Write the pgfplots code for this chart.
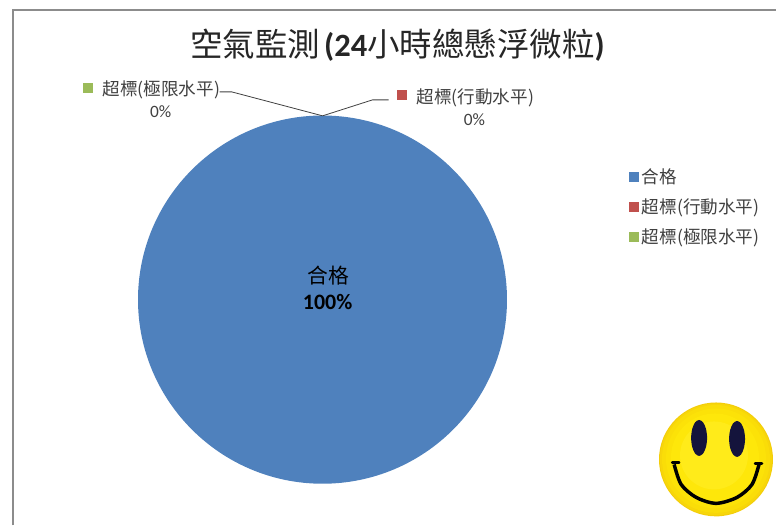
\documentclass[border=0pt]{standalone}
\usepackage{fontspec}
\setmainfont{Carlito}
\newfontfamily\cjk{Noto Sans CJK TC}
\usepackage{pgfplots}
\pgfplotsset{compat=1.18}
\definecolor{pieblue}{HTML}{4F81BD}
\definecolor{piered}{HTML}{C0504D}
\definecolor{piegreen}{HTML}{9BBB59}
\definecolor{txt}{HTML}{404040}
\definecolor{eye}{HTML}{14143C}
\definecolor{y1}{HTML}{F3CD0A}
\definecolor{y2}{HTML}{F7D60A}
\definecolor{y3}{HTML}{FADD08}
\definecolor{y4}{HTML}{FCE208}
\definecolor{y5}{HTML}{FEE70A}
\definecolor{y6}{HTML}{FFEB1A}
\pgfplotsset{
  sq/.style={legend image code/.code={\fill[#1, draw=none, line width=0pt, line cap=butt] (-1.5pt,-3.7pt) rectangle (5.9pt,3.7pt);}},
  disc/.style 2 args={forget plot, color=#1, line cap=round, line width=#2*1.5pt},
}
\begin{document}
\begin{tikzpicture}
\begin{axis}[
  at={(0,0)}, anchor=south west,
  scale only axis, width=582.75pt, height=394.5pt,
  xmin=0, xmax=777, ymin=0, ymax=526, y dir=reverse,
  hide axis, clip=false,
  legend style={draw=none, fill=none, at={(axis cs:630,166)}, anchor=north west,
    font=\fontsize{13.2pt}{15pt}\selectfont\cjk\color{txt}, row sep=6pt, inner sep=0pt,
    legend cell align=left},
]
% Chart frame
\addplot[forget plot, color=black!45, line width=1.5pt] coordinates {(13.5,526) (13.5,10.5) (777,10.5)};
% Pie: 100% 合格 fills the whole circle
\addplot[sq=pieblue, color=pieblue, line cap=round, line width=276.5pt] coordinates {(323,300) (323,300.01)};
\addlegendentry{合格}
% Zero-size slices
\addplot[sq=piered, draw=none, mark=none] coordinates {(323,116) (323,116)};
\addlegendentry{超標(行動水平)}
\addplot[sq=piegreen, draw=none, mark=none] coordinates {(323,116) (323,116)};
\addlegendentry{超標(極限水平)}
% Leader lines
\addplot[forget plot, color=txt, line width=0.6pt] coordinates {(220,92) (232,92) (323,116)};
\addplot[forget plot, color=txt, line width=0.6pt] coordinates {(323,116) (373,100) (389,100)};
% Data-label keys
\addplot[forget plot, color=piegreen, line width=7.5pt] coordinates {(83.5,88) (93.5,88)};
\addplot[forget plot, color=piered, line width=7.5pt] coordinates {(398,95) (408,95)};
% Smiley
\addplot[disc={y1}{57}] coordinates {(717,460) (717,460.01)};
\addplot[disc={y2}{56}] coordinates {(717,460) (717,460.01)};
\addplot[disc={y3}{54}] coordinates {(717,459.5) (717,459.51)};
\addplot[disc={y4}{50}] coordinates {(717,459) (717,459.01)};
\addplot[disc={y5}{44}] coordinates {(716,458) (716,458.01)};
\addplot[disc={y6}{34}] coordinates {(715,456) (715,456.01)};
\addplot[forget plot, fill=eye, draw=none, smooth cycle] coordinates {(708,438.5) (706.9,429.5) (704,422.9) (700,420.5) (696,422.9) (693.1,429.5) (692,438.5) (693.1,447.5) (696,454.1) (700,456.5) (704,454.1) (706.9,447.5)};
\addplot[forget plot, fill=eye, draw=none, smooth cycle] coordinates {(746,439.5) (744.9,430.5) (742,423.9) (738,421.5) (734,423.9) (731.1,430.5) (730,439.5) (731.1,448.5) (734,455.1) (738,457.5) (742,455.1) (744.9,448.5)};
\addplot[forget plot, color=black, line width=2.6pt, smooth] coordinates {(675,465) (682,485) (697,498) (717,504) (738,498) (753,485) (760,465)};
\addplot[forget plot, color=black, line width=1.9pt, line cap=round] coordinates {(673,463) (680,463)};
\addplot[forget plot, color=black, line width=1.9pt, line cap=round] coordinates {(756,464) (763,464)};
% Texts
\node[anchor=center, text=black!85, font=\fontsize{24.4pt}{28pt}\selectfont] at (axis cs:398,45)
  {{\cjk 空氣監測}\hspace{3pt}\textbf{(24}{\cjk 小時總懸浮微粒}\textbf{)}};
\node[anchor=center, text=txt, font=\fontsize{13.2pt}{15pt}\selectfont\cjk] at (axis cs:161.5,90) {超標(極限水平)};
\node[anchor=center, text=txt, font=\fontsize{13pt}{15pt}\selectfont] at (axis cs:161,112) {0\%};
\node[anchor=center, text=txt, font=\fontsize{13.2pt}{15pt}\selectfont\cjk] at (axis cs:476,98) {超標(行動水平)};
\node[anchor=center, text=txt, font=\fontsize{13pt}{15pt}\selectfont] at (axis cs:475,119.5) {0\%};
\node[anchor=center, text=black, font=\fontsize{15.6pt}{18pt}\selectfont\cjk] at (axis cs:329,276) {合格};
\node[anchor=center, text=black, font=\fontsize{16.5pt}{18pt}\selectfont\bfseries] at (axis cs:328,302) {100\%};
\path (axis cs:0,0) rectangle (axis cs:777,526);
\end{axis}
\end{tikzpicture}
\end{document}
